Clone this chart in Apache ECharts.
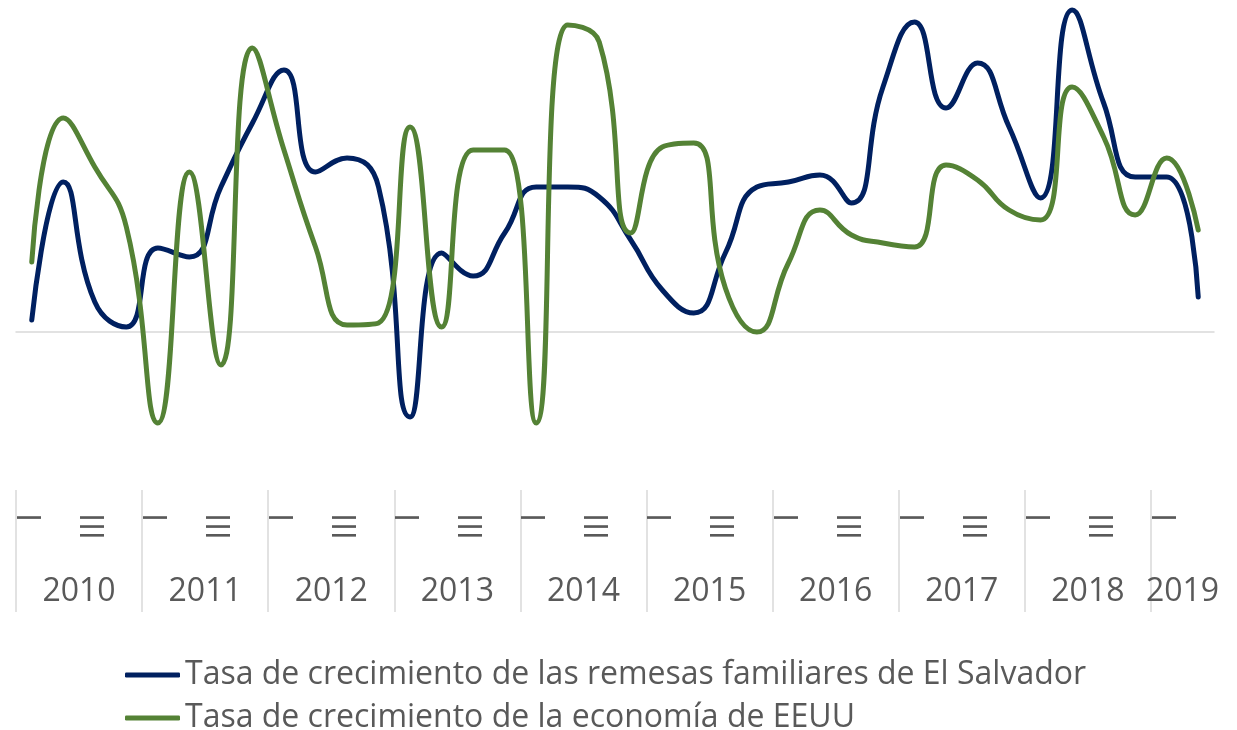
<!DOCTYPE html>
<html>
<head>
    <meta charset="UTF-8">
    <title>Remesas vs economía de EEUU</title>
    <script src="https://cdn.jsdelivr.net/npm/echarts@6/dist/echarts.min.js"></script>
    <style>
        body { margin: 0; background: #fff; }
    </style>
</head>
<body>
    <div id="main" style="width: 1237px;height:730px;"></div>

    <script type="text/javascript">
        // años y trimestres (2019 solo tiene I y II)
        var years = ['2010', '2011', '2012', '2013', '2014', '2015', '2016', '2017', '2018', '2019'];
        var quarters = ['I', 'II', 'III', 'IV'];

        // tasas (aprox.)
        var remesas = [1.2, 15.0, 3.0, 0.5, 8.4, 7.5, 14.5, 20.9, 26.2, 16.0, 17.4, 14.5,
            -8.5, 7.9, 5.6, 9.9, 14.5, 14.5, 13.5, 9.2, 4.2, 1.9, 7.9, 14.5,
            15.0, 15.7, 12.9, 24.5, 31.0, 22.4, 26.9, 20.5, 13.4, 32.2, 22.9, 15.5,
            15.5, 3.5];
        var eeuu = [7.0, 21.4, 16.5, 10.5, -9.1, 16.0, -3.3, 28.4, 18.2, 8.5, 0.7, 0.9,
            20.5, 0.5, 18.2, 18.2, -9.1, 30.7, 29.0, 9.9, 18.5, 18.9, 4.4, 0.0,
            6.9, 12.2, 9.7, 8.9, 8.5, 16.7, 15.2, 12.2, 11.2, 24.5, 19.5, 11.7,
            17.4, 10.2];

        var serieNames = ['Tasa de crecimiento de las remesas familiares de El Salvador',
            'Tasa de crecimiento de la economía de EEUU'];

        // eje de trimestres
        var qLabels = [];
        for (var i = 0; i < years.length; i++) {
            var n = (years[i] === '2019') ? 2 : 4;
            for (var j = 0; j < n; j++) qLabels.push(quarters[j]);
        }
        // eje de años: medio trimestre por posición
        var halfSlots = qLabels.length * 2;
        var yLabels = [];
        for (var k = 0; k <= halfSlots; k++) {
            yLabels.push(years[Math.min(Math.floor(k / 8), years.length - 1)]);
        }

        var txt = '#595959';
        var font = 'Open Sans';

        var myChart = echarts.init(document.getElementById('main'));
        myChart.setOption({
            animation: false,
            textStyle: { fontFamily: font },
            grid: { left: 16, right: 23, top: 2, bottom: 240 },
            legend: {
                orient: 'vertical',
                left: 120,
                top: 654,
                height: 76,
                itemWidth: 55,
                itemHeight: 5,
                itemGap: 11,
                icon: 'roundRect',
                textStyle: { fontSize: 32, color: txt, fontFamily: font },
                data: serieNames
            },
            xAxis: [{
                type: 'category',
                data: qLabels,
                position: 'bottom',
                axisLine: { show: false, onZero: false },
                axisTick: { show: false },
                axisLabel: {
                    interval: 1,
                    rotate: 90,
                    margin: 23,
                    fontSize: 32,
                    color: txt,
                    fontFamily: font
                }
            }, {
                type: 'category',
                data: yLabels,
                boundaryGap: false,
                position: 'bottom',
                axisLine: { show: false, onZero: false },
                axisTick: {
                    show: true,
                    length: 122,
                    interval: function (idx) { return idx % 8 === 0 || idx === halfSlots; },
                    lineStyle: { color: '#d9d9d9', width: 1.5 }
                },
                axisLabel: {
                    interval: function (idx) { return idx % 8 === 4 || idx === halfSlots - 2; },
                    margin: 86,
                    fontSize: 32,
                    color: txt,
                    fontFamily: font
                }
            }, {
                // línea del cero
                type: 'category',
                data: qLabels,
                axisLine: { show: true, onZero: true, lineStyle: { color: '#d9d9d9', width: 1.5 } },
                axisTick: { show: false },
                axisLabel: { show: false }
            }],
            yAxis: {
                type: 'value',
                min: -15.8,
                max: 33,
                show: false,
                splitLine: { show: false }
            },
            series: [{
                name: serieNames[0],
                type: 'line',
                data: remesas,
                smooth: true,
                symbol: 'none',
                itemStyle: { color: '#002060' },
                lineStyle: { color: '#002060', width: 5, cap: 'round' }
            }, {
                name: serieNames[1],
                type: 'line',
                data: eeuu,
                smooth: true,
                symbol: 'none',
                itemStyle: { color: '#548235' },
                lineStyle: { color: '#548235', width: 5, cap: 'round' }
            }]
        });
    </script>
</body>
</html>
